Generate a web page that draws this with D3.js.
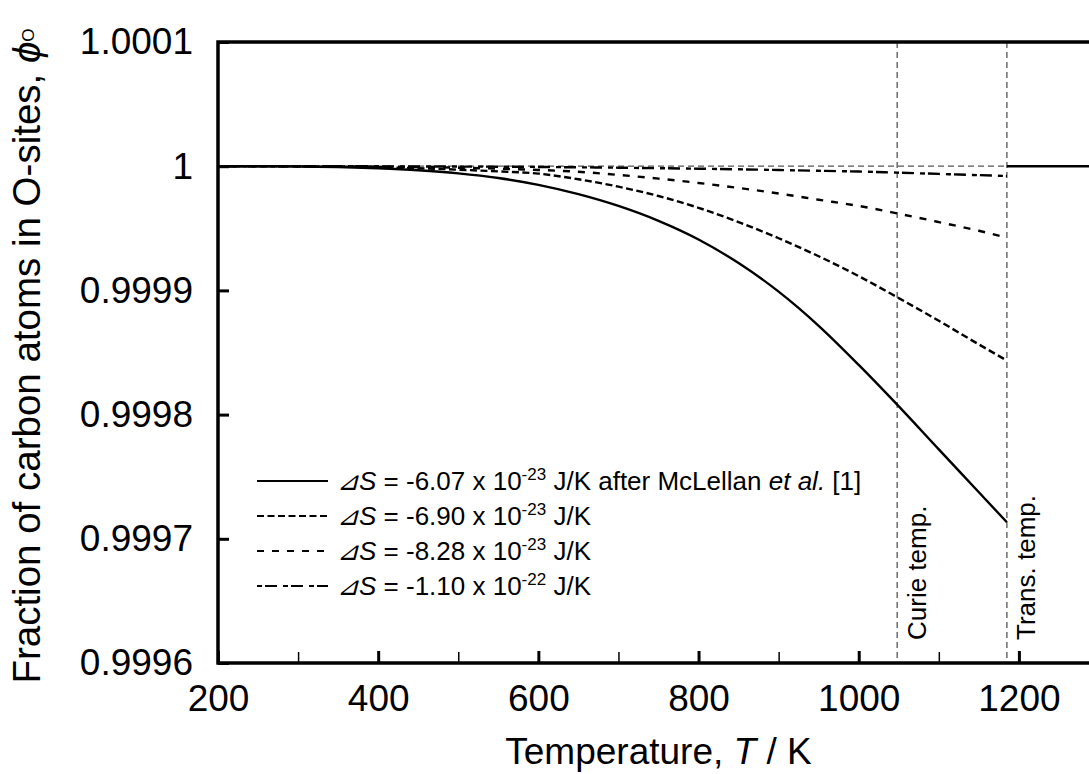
<!DOCTYPE html>
<html>
<head>
<meta charset="utf-8">
<script src="https://cdn.jsdelivr.net/npm/d3@7"></script>
<style>
  body { margin: 0; background: #fff; }
  svg { display: block; font-family: "Liberation Sans", Arial, sans-serif; }
</style>
</head>
<body>
<script>
const temps = [200, 250, 300, 350, 400, 450, 500, 550, 600, 650, 700, 750, 800, 850, 900, 950, 1000, 1048, 1100, 1150, 1185];

// fraction of carbon atoms in O-sites for each entropy value
const phiS607 = [1, 0.99999995, 0.9999998, 0.9999993, 0.9999983, 0.9999967, 0.9999942, 0.9999905, 0.999985, 0.9999775, 0.999968, 0.999956, 0.999941, 0.999922, 0.999899, 0.9998715, 0.99984, 0.999808, 0.999772, 0.9997375, 0.9997133];
const phiS690 = [1, 0.99999998, 0.9999999, 0.9999997, 0.9999992, 0.9999984, 0.9999972, 0.9999958, 0.999994, 0.9999895, 0.9999835, 0.999976, 0.9999665, 0.999955, 0.999942, 0.9999275, 0.9999115, 0.9998945, 0.9998755, 0.9998565, 0.9998435];
const phiS828 = [1, 1, 0.99999995, 0.9999998, 0.9999996, 0.9999993, 0.9999988, 0.999998, 0.999997, 0.9999955, 0.999993, 0.99999, 0.9999865, 0.9999825, 0.999978, 0.999973, 0.999968, 0.999962, 0.999955, 0.999948, 0.9999425];
const phiS1100 = [1, 1, 1, 0.99999995, 0.9999999, 0.9999998, 0.9999997, 0.9999996, 0.9999994, 0.9999991, 0.9999988, 0.9999984, 0.999998, 0.9999975, 0.9999969, 0.9999963, 0.9999957, 0.9999948, 0.9999938, 0.9999928, 0.9999921];

// above the transformation temperature everything sits in O-sites
const gammaT = [1185, 1300];
const gammaPhi = [1, 1];

const curieT = 1048;
const transT = 1185;

const xMajor = [200, 400, 600, 800, 1000, 1200];
const xMinor = [300, 500, 700, 900, 1100, 1300];
const yTicks = [0.9996, 0.9997, 0.9998, 0.9999, 1, 1.0001];
const yTickLabels = ["0.9996", "0.9997", "0.9998", "0.9999", "1", "1.0001"];

const legendValues = ["-6.07", "-6.90", "-8.28", "-1.10"];
const legendExp = ["-23", "-23", "-23", "-22"];

const w = 1089;
const h = 774;
const mLeft = 218, mTop = 42, mRight = 1099, mBottom = 663;

const svg = d3.select("body").append("svg").attr("width", w).attr("height", h);

const x = d3.scaleLinear().domain([200, 1300]).range([mLeft, mRight]);
const y = d3.scaleLinear().domain([0.9996, 1.0001]).range([mBottom, mTop]);

// reference lines
const grey = "#555";
svg.append("line")
  .attr("x1", x(200)).attr("x2", x(transT))
  .attr("y1", y(1)).attr("y2", y(1))
  .attr("stroke", grey).attr("stroke-width", 1.3).attr("stroke-dasharray", "6,4");
[curieT, transT].forEach((t) => {
  svg.append("line")
    .attr("x1", x(t)).attr("x2", x(t))
    .attr("y1", mTop).attr("y2", mBottom)
    .attr("stroke", grey).attr("stroke-width", 1.3).attr("stroke-dasharray", "6,4");
});

const series = [
  { vals: phiS607, dash: null },
  { vals: phiS690, dash: "7,3.5" },
  { vals: phiS828, dash: "7,8" },
  { vals: phiS1100, dash: "5,3,12,6" }
];

const line = d3.line()
  .x((d) => x(d[0]))
  .y((d) => y(d[1]))
  .curve(d3.curveMonotoneX);

series.forEach((s) => {
  svg.append("path")
    .datum(temps.map((t, i) => [t, s.vals[i]]))
    .attr("d", line)
    .attr("fill", "none")
    .attr("stroke", "#000")
    .attr("stroke-width", 2.4)
    .attr("stroke-dasharray", s.dash);
});

svg.append("path")
  .datum(gammaT.map((t, i) => [t, gammaPhi[i]]))
  .attr("d", line)
  .attr("fill", "none")
  .attr("stroke", "#000")
  .attr("stroke-width", 2.4);

// axes, ticks pointing inward
const xAxisMajor = d3.axisBottom(x).tickValues(xMajor).tickSizeInner(-12).tickSizeOuter(0).tickPadding(22)
  .tickFormat(d3.format("d"));
const xAxisMinor = d3.axisBottom(x).tickValues(xMinor).tickSizeInner(-11).tickSizeOuter(0).tickFormat("");
const yAxis = d3.axisLeft(y).tickValues(yTicks).tickSizeInner(-11).tickSizeOuter(0).tickPadding(25)
  .tickFormat((d, i) => yTickLabels[i]);

const gxMinor = svg.append("g").attr("transform", `translate(0,${mBottom})`).call(xAxisMinor);
gxMinor.selectAll("line").attr("stroke-width", 1.5);
const gx = svg.append("g").attr("transform", `translate(0,${mBottom})`).call(xAxisMajor);
gx.selectAll("line").attr("stroke-width", 3);
const gy = svg.append("g").attr("transform", `translate(${mLeft},0)`).call(yAxis);
gy.selectAll("line").attr("stroke-width", 3);

svg.selectAll(".domain").remove();
svg.selectAll(".tick text")
  .attr("font-size", 37)
  .attr("font-family", "'Liberation Sans', Arial, sans-serif")
  .attr("fill", "#000");

// frame
svg.append("path")
  .attr("d", `M${mRight},${mTop}H${mLeft}V${mBottom}H${mRight}`)
  .attr("fill", "none")
  .attr("stroke", "#000")
  .attr("stroke-width", 3.5);

// axis titles
const xt = svg.append("text")
  .attr("x", (mLeft + mRight) / 2)
  .attr("y", 764)
  .attr("text-anchor", "middle")
  .attr("font-size", 37);
xt.append("tspan").text("Temperature, ");
xt.append("tspan").attr("font-style", "italic").text("T");
xt.append("tspan").text(" / K");

const yt = svg.append("text")
  .attr("transform", "translate(40,356) rotate(-90)")
  .attr("text-anchor", "middle")
  .attr("font-size", 38.5);
yt.append("tspan").text("Fraction of carbon atoms in O-sites, ");
yt.append("tspan").attr("font-style", "italic").text("ϕ");
yt.append("tspan").attr("font-size", 17).attr("dy", -6).text("O");

// temperature markers
svg.append("text")
  .attr("transform", `translate(${x(curieT) + 29},640) rotate(-90)`)
  .attr("font-size", 26)
  .text("Curie temp.");
svg.append("text")
  .attr("transform", `translate(${x(transT) + 28},640) rotate(-90)`)
  .attr("font-size", 26)
  .text("Trans. temp.");

// legend
const legendY = [481, 516, 551, 586];
series.forEach((s, i) => {
  svg.append("line")
    .attr("x1", 257).attr("x2", 328)
    .attr("y1", legendY[i]).attr("y2", legendY[i])
    .attr("stroke", "#000")
    .attr("stroke-width", 1.8)
    .attr("stroke-dasharray", s.dash);
  const t = svg.append("text")
    .attr("x", 337)
    .attr("y", legendY[i] + 9)
    .attr("font-size", 26);
  t.append("tspan").attr("font-style", "italic").text("⊿S");
  t.append("tspan").text(` = ${legendValues[i]} x 10`);
  t.append("tspan").attr("font-size", 17).attr("dy", -10).text(legendExp[i]);
  t.append("tspan").attr("dy", 10).text(" J/K");
  if (i === 0) {
    t.append("tspan").text(" after McLellan ");
    t.append("tspan").attr("font-style", "italic").text("et al.");
    t.append("tspan").text(" [1]");
  }
});
</script>
</body>
</html>
